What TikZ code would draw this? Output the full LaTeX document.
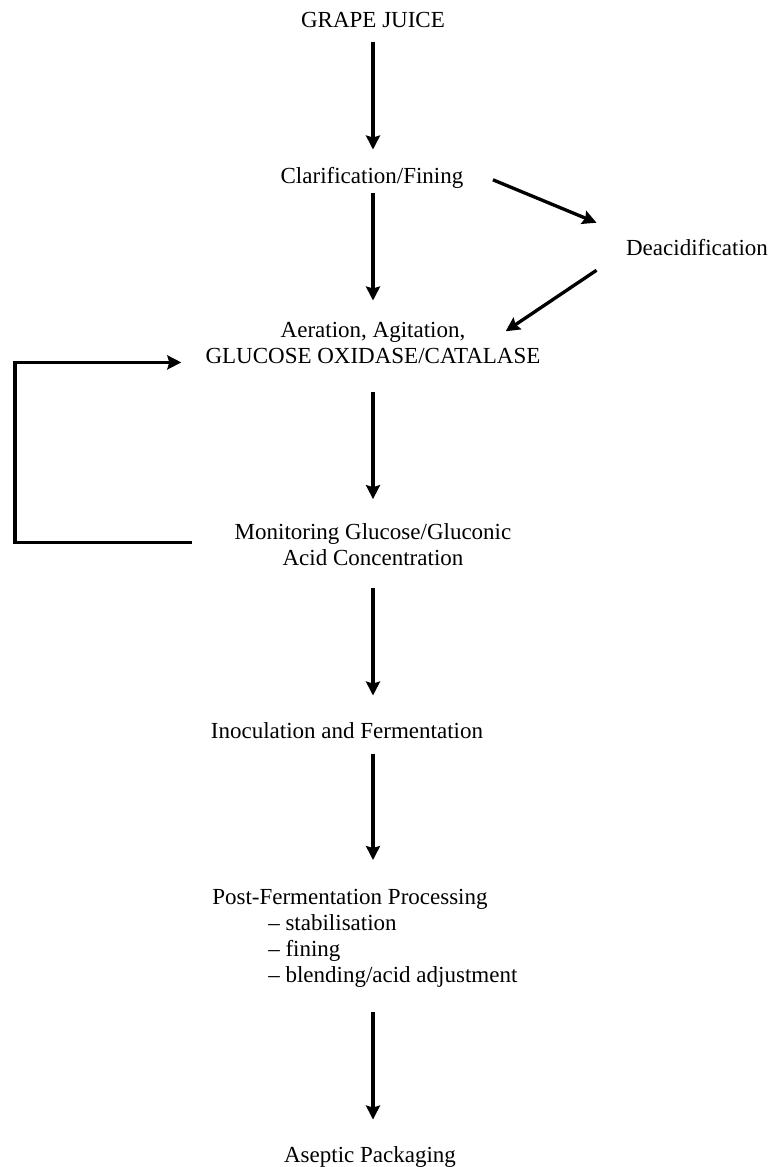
\documentclass[tikz,border=0pt]{standalone}
\usepackage{fontspec}
\setmainfont{Liberation Serif}
\usetikzlibrary{arrows.meta}
\tikzset{
	stage/.style={inner xsep=0pt, inner ysep=9pt, align=center,
		font=\fontsize{17.25}{19.5}\selectfont,
		execute at begin node=\strut, execute at end node=\strut},
	flow/.style={line width=2.5pt, -{Stealth[length=10.5pt,width=10.5pt,inset=1.5pt]}, shorten >=9pt},
}
\begin{document}
	\begin{tikzpicture}[x=0.75pt,y=-0.75pt]
		\useasboundingbox (0,0) rectangle (771,1167);
		\begin{scope}
			\coordinate (spine) at (373,0);
			\coordinate (loop) at (15,0);
			% stages
			\node[stage] (juice) at (373,21.8) {GRAPE JUICE};
			\node[stage] (clar) at (372,177.8) {Clarification/Fining};
			\node[stage] (deacid) at (697,249.8) {Deacidification};
			\node[stage] (aer) at (373,346.3) {Aeration, Agitation,\\GLUCOSE OXIDASE/CATALASE};
			\node[stage] (mon) at (373,548.3) {Monitoring Glucose/Gluconic\\Acid Concentration};
			\node[stage] (inoc) at (347,732.8) {Inoculation and Fermentation};
			\node[stage, align=left, anchor=west] (post) at (212,939.8) {Post-Fermentation Processing\\
				\hspace*{42pt}-- stabilisation\\
				\hspace*{42pt}-- fining\\
				\hspace*{42pt}-- blending/acid adjustment};
			\node[stage] (asep) at (370,1156.8) {Aseptic Packaging};
			% main line
			\draw[flow, shorten <=-3.75pt, shorten >=2.25pt] (juice.south -| spine) -- (clar.north -| spine);
			\draw[flow, shorten <=-7.5pt, shorten >=6.75pt] (clar.south -| spine) -- (aer.north -| spine);
			\draw[flow, shorten <=6.75pt] (aer.south -| spine) -- (mon.north -| spine);
			\draw[flow, shorten <=2.25pt] (mon.south -| spine) -- (inoc.north -| spine);
			\draw[flow, shorten <=-3pt, shorten >=12.75pt] (inoc.south -| spine) -- (post.north -| spine);
			\draw[flow, shorten <=6.75pt] (post.south -| spine) -- (asep.north -| spine);
			% side branch
			\draw[flow, shorten >=0pt] ([xshift=22pt,yshift=-1.5pt]clar.east) -- ([xshift=-22pt,yshift=1.35pt]deacid.north west);
			\draw[flow, shorten >=0pt] ([xshift=-22pt,yshift=3.6pt]deacid.south west) -- ([xshift=-26.25pt,yshift=-16.3pt]aer.north east);
			% feedback
			\coordinate (gin) at ([yshift=15.5pt]aer.south west);
			\draw[flow, shorten <=31.5pt, shorten >=18pt] ([yshift=4.5pt]mon.west) -- ([yshift=4.5pt]mon.west -| loop) -- (gin -| loop) -- (gin);
		\end{scope}
	\end{tikzpicture}
\end{document}
